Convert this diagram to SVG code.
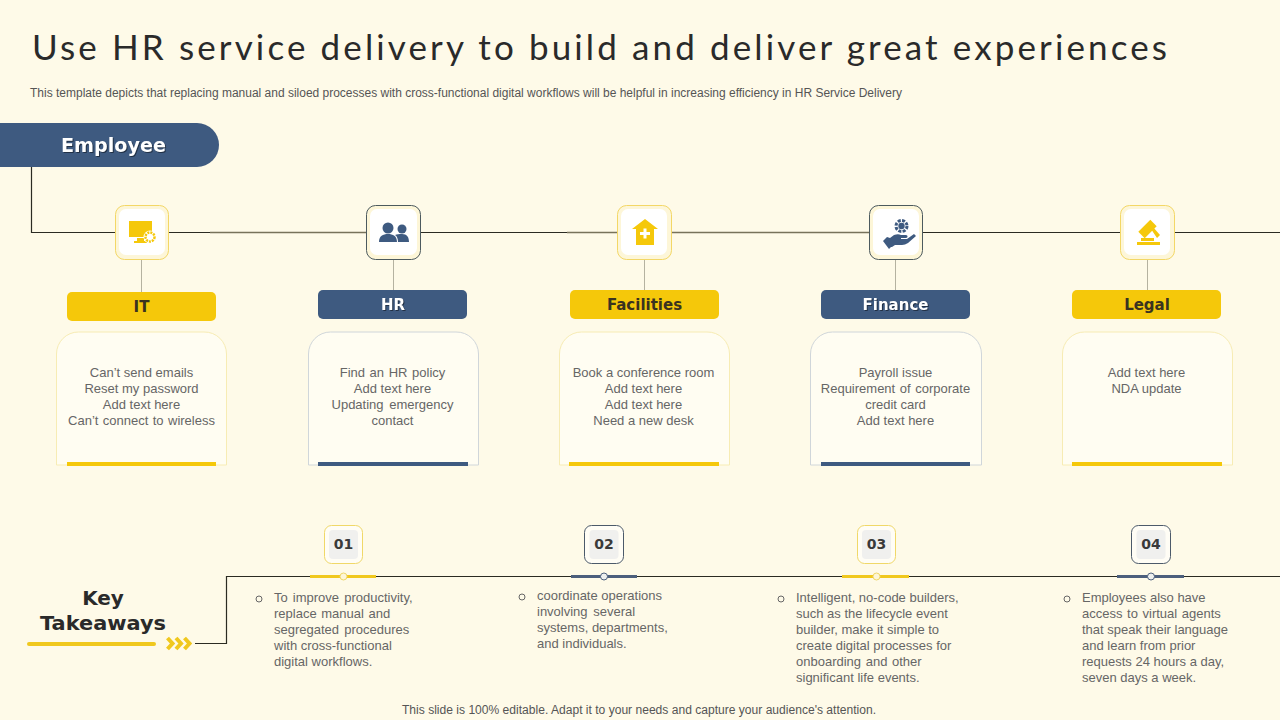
<svg xmlns="http://www.w3.org/2000/svg" width="1280" height="720" viewBox="0 0 1280 720">
<style>
.body{font-family:"Liberation Sans",Arial,sans-serif;font-size:13px;fill:#666}
.mid{text-anchor:middle}
.hand{font-family:"DejaVu Sans",sans-serif;font-weight:700}
.line{fill:none;stroke:#2b2b22;stroke-width:1.2}
.olive{fill:none;stroke:#77725a;stroke-width:1.5}
.stem{fill:none;stroke:#b5b2a0;stroke-width:1}
.card{fill:#fffdf2;stroke-width:1}
.y{fill:#f5c80a}
.b{fill:#3e5a80}
.lab{font-size:15px;text-anchor:middle}
.shadow{filter:drop-shadow(1px 1px 0 rgba(0,0,0,.45))}
.num{font-family:"DejaVu Sans",sans-serif;font-weight:700;font-size:14px;fill:#3a3a3a;text-anchor:middle}
.bul{fill:none;stroke:#666;stroke-width:1}
</style>
<rect width="1280" height="720" fill="#fefae8"/>
<text id="title" x="32" y="60" font-family="Lato,sans-serif" font-size="35" fill="#2a2a2a" textLength="1135" lengthAdjust="spacing">Use HR service delivery to build and deliver great experiences</text>
<text id="subtitle" x="30" y="97" font-family="'Liberation Sans',Arial,sans-serif" font-size="12" fill="#555" textLength="872" lengthAdjust="spacingAndGlyphs">This template depicts that replacing manual and siloed processes with cross-functional digital workflows will be helpful in increasing efficiency in HR Service Delivery</text>
<g id="connectors">
<path class="line" d="M31.500 166V232.500H1280"/>
<path class="olive" d="M210 232.500H366M567 232.500H869"/>
<path class="stem" d="M141.500 259V292M393.500 259V290M644.500 259V290M895.500 259V290M1147.500 259V290"/>
<path class="line" d="M195 643.500H226.500V576.500H1280"/>
</g>
<g id="employee"><path class="b" d="M0 123H197a22 22 0 0 1 0 44H0Z"/><text class="hand shadow" x="113.500" y="152" font-size="20" fill="#fff" text-anchor="middle" textLength="105" lengthAdjust="spacingAndGlyphs">Employee</text></g>

<g id="it">
<rect x="115.500" y="205.500" width="53" height="54" rx="9" fill="#fdf6d8" stroke="#f3d766"/><rect x="119" y="209" width="46" height="46" rx="7" fill="#fff"/>
<path class="y" d="M129 221h23v16h-23zM137 238h7v3h3v2h-13v-2h3z"/><circle cx="150" cy="237" r="6.500" fill="#fff"/><circle cx="150" cy="237" r="4.500" fill="#fff" stroke="#f5c80a" stroke-width="2.500" stroke-dasharray="2 1"/>
<rect class="y" x="67" y="292" width="149" height="29" rx="5"/><text class="hand lab" x="141.500" y="312" fill="#3a3320">IT</text>
<path class="card" stroke="#f7ecb4" d="M56.500 465V354a22 22 0 0 1 22-22H204a22 22 0 0 1 22.500 22V465Z"/><rect class="y" x="67" y="462" width="149" height="4"/>
<text class="body mid"><tspan x="141.500" y="377">Can’t send emails</tspan><tspan x="141.500" y="393">Reset my password</tspan><tspan x="141.500" y="409">Add text here</tspan><tspan x="141.500" y="425" word-spacing="0.8">Can’t connect to wireless</tspan></text>
</g>

<g id="hr">
<rect x="366.500" y="205.500" width="54" height="54" rx="9" fill="#fdf6d8" stroke="#4c5a5e"/><rect x="370" y="209" width="47" height="46" rx="7" fill="#fff"/>
<g class="b"><circle cx="388" cy="228" r="5.500"/><circle cx="402" cy="229" r="4.500"/><path d="M379 242c0-6 4-8 9-8s9 2 9 8zM398 242c0-3-1-6-3-7 2-1 4-1 7-1 5 0 7 3 7 8z"/></g>
<rect class="b" x="318" y="290" width="149" height="29" rx="5"/><text class="hand lab shadow" x="393" y="310" fill="#fff">HR</text>
<path class="card" stroke="#d0d6da" d="M308.500 465V354a22 22 0 0 1 22-22H456a22 22 0 0 1 22.500 22V465Z"/><rect class="b" x="318" y="462" width="150" height="4"/>
<text class="body mid"><tspan x="392.500" y="377" word-spacing="1">Find an HR policy</tspan><tspan x="392.500" y="393">Add text here</tspan><tspan x="392.500" y="409" word-spacing="2">Updating emergency</tspan><tspan x="392.500" y="425">contact</tspan></text>
</g>

<g id="facilities">
<rect x="617.500" y="205.500" width="54" height="54" rx="9" fill="#fdf6d8" stroke="#f3d766"/><rect x="621" y="209" width="46" height="46" rx="7" fill="#fff"/>
<path class="y" d="M645 219l13 10h-4v16h-18v-16h-4z"/><path d="M643.500 228.500h3v3.500h3.500v3h-3.500v3.500h-3v-3.500h-3.500v-3h3.500z" fill="#fff"/>
<rect class="y" x="570" y="290" width="149" height="29" rx="5"/><text class="hand lab" x="644.500" y="310" fill="#3a3320">Facilities</text>
<path class="card" stroke="#f7ecb4" d="M559.500 465V354a22 22 0 0 1 22-22H707a22 22 0 0 1 22.500 22V465Z"/><rect class="y" x="569" y="462" width="150" height="4"/>
<text class="body mid"><tspan x="643.500" y="377">Book a conference room</tspan><tspan x="643.500" y="393">Add text here</tspan><tspan x="643.500" y="409">Add text here</tspan><tspan x="643.500" y="425">Need a new desk</tspan></text>
</g>

<g id="finance">
<rect x="869.500" y="205.500" width="53" height="54" rx="9" fill="#fdf6d8" stroke="#4c5a5e"/><rect x="873" y="209" width="46" height="46" rx="7" fill="#fff"/>
<circle cx="901.500" cy="226" r="5.500" fill="none" stroke="#3e5a80" stroke-width="3" stroke-dasharray="3 1.300"/><circle cx="901.500" cy="226" r="3.200" fill="#3e5a80"/>
<path class="b" d="M883 241l4-4 3 1 4-3c3-1 5-1 7 0h5c2 0 2 3 0 3h-5v1h6l7-5 2 2-8 7c-2 1-4 2-6 2h-7l-3 2-1 0 -2 2z"/>
<rect class="b" x="821" y="290" width="149" height="29" rx="5"/><text class="hand lab shadow" x="895.500" y="310" fill="#fff">Finance</text>
<path class="card" stroke="#d0d6da" d="M810.500 465V354a22 22 0 0 1 22-22H959a22 22 0 0 1 22.500 22V465Z"/><rect class="b" x="821" y="462" width="149" height="4"/>
<text class="body mid"><tspan x="895.500" y="377">Payroll issue</tspan><tspan x="895.500" y="393" word-spacing="1">Requirement  of corporate</tspan><tspan x="895.500" y="409">credit card</tspan><tspan x="895.500" y="425">Add text here</tspan></text>
</g>

<g id="legal">
<rect x="1120.500" y="205.500" width="54" height="54" rx="9" fill="#fdf6d8" stroke="#f3d766"/><rect x="1124" y="209" width="46" height="46" rx="7" fill="#fff"/>
<g class="y"><rect x="1139" y="224.500" width="17" height="9" transform="rotate(-45 1147.500 229)"/><path d="M1151 229l2-2 7 8-3 3zM1141 238h13v3h-13zM1137 242h23v3h-23z"/></g>
<rect class="y" x="1072" y="290" width="149" height="29" rx="5"/><text class="hand lab" x="1147" y="310" fill="#3a3320">Legal</text>
<path class="card" stroke="#f7ecb4" d="M1062.500 465V354a22 22 0 0 1 22-22H1210a22 22 0 0 1 22.500 22V465Z"/><rect class="y" x="1072" y="462" width="150" height="4"/>
<text class="body mid"><tspan x="1146.500" y="377">Add text here</tspan><tspan x="1146.500" y="393">NDA update</tspan></text>
</g>

<g id="takeaways-label">
<text class="hand" font-size="20" fill="#2a2a2a" text-anchor="middle" x="103" y="605">Key</text><text class="hand" font-size="20" fill="#2a2a2a" text-anchor="middle" x="103" y="630" textLength="126" lengthAdjust="spacingAndGlyphs">Takeaways</text>
<path d="M29 644H154" stroke="#f0c81e" stroke-width="4" stroke-linecap="round"/>
<path d="M167.500 638l5 5.500-5 5.500M176 638l5 5.500-5 5.500M184.500 638l5 5.500-5 5.500" fill="none" stroke="#f0c81e" stroke-width="4"/>
</g>

<g id="t1">
<rect x="324.500" y="525.500" width="38" height="38" rx="7" fill="#fffdf5" stroke="#f0d868"/><rect x="329" y="530" width="29" height="29" rx="4" fill="#f0f0ee"/><text class="num" x="343.500" y="549">01</text>
<path d="M310 576.500H376" stroke="#f0c81e" stroke-width="3"/><circle cx="343.500" cy="576.500" r="3.500" fill="#fdf6d8" stroke="#f0d868"/>
<circle class="bul" cx="259" cy="599" r="3"/>
<text class="body"><tspan x="274" y="602" word-spacing="1.500">To improve  productivity,</tspan><tspan x="274" y="618" word-spacing="1">replace manual and</tspan><tspan x="274" y="634" word-spacing="1.500">segregated  procedures</tspan><tspan x="274" y="650">with cross-functional</tspan><tspan x="274" y="666">digital workflows.</tspan></text>
</g>
<g id="t2">
<rect x="584.500" y="525.500" width="39" height="38" rx="7" fill="#fffdf5" stroke="#4c5a6a"/><rect x="589.500" y="530" width="29" height="29" rx="4" fill="#f0f0ee"/><text class="num" x="604" y="549">02</text>
<path d="M571 576.500H637" stroke="#4c5f7c" stroke-width="3"/><circle cx="604" cy="576.500" r="3.500" fill="#eef0ee" stroke="#4c5f7c"/>
<circle class="bul" cx="522" cy="597" r="3"/>
<text class="body"><tspan x="537" y="600">coordinate operations</tspan><tspan x="537" y="616" word-spacing="2">involving  several</tspan><tspan x="537" y="632">systems, departments,</tspan><tspan x="537" y="648">and individuals.</tspan></text>
</g>
<g id="t3">
<rect x="857.500" y="525.500" width="38" height="38" rx="7" fill="#fffdf5" stroke="#f0d868"/><rect x="862" y="530" width="29" height="29" rx="4" fill="#f0f0ee"/><text class="num" x="876.500" y="549">03</text>
<path d="M842 576.500H909" stroke="#f0c81e" stroke-width="3"/><circle cx="876.500" cy="576.500" r="3.500" fill="#fdf6d8" stroke="#f0d868"/>
<circle class="bul" cx="781" cy="599" r="3"/>
<text class="body"><tspan x="796" y="602">Intelligent,  no-code builders,</tspan><tspan x="796" y="618">such as the lifecycle event</tspan><tspan x="796" y="634">builder,  make it simple to</tspan><tspan x="796" y="650">create digital processes for</tspan><tspan x="796" y="666" word-spacing="1">onboarding  and other</tspan><tspan x="796" y="682">significant life events.</tspan></text>
</g>
<g id="t4">
<rect x="1131.500" y="525.500" width="39" height="38" rx="7" fill="#fffdf5" stroke="#4c5a6a"/><rect x="1136.500" y="530" width="29" height="29" rx="4" fill="#f0f0ee"/><text class="num" x="1151" y="549">04</text>
<path d="M1117 576.500H1184" stroke="#4c5f7c" stroke-width="3"/><circle cx="1151" cy="576.500" r="3.500" fill="#eef0ee" stroke="#4c5f7c"/>
<circle class="bul" cx="1067" cy="599" r="3"/>
<text class="body"><tspan x="1082" y="602">Employees also have</tspan><tspan x="1082" y="618" word-spacing="1">access to virtual  agents</tspan><tspan x="1082" y="634">that speak their language</tspan><tspan x="1082" y="650">and learn from prior</tspan><tspan x="1082" y="666">requests 24 hours a day,</tspan><tspan x="1082" y="682">seven days a week.</tspan></text>
</g>
<text id="footer" x="639" y="714" text-anchor="middle" font-family="'Liberation Sans',Arial,sans-serif" font-size="12" fill="#555" textLength="474" lengthAdjust="spacingAndGlyphs">This slide is 100% editable. Adapt it to your needs and capture your audience's attention.</text>
</svg>
